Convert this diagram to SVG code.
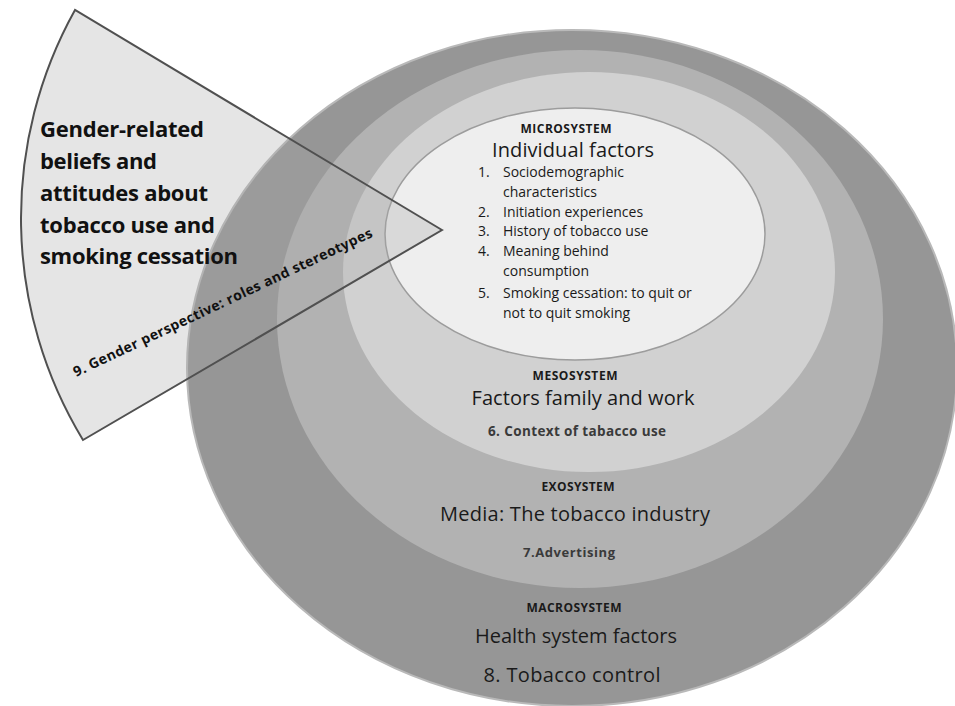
<svg xmlns="http://www.w3.org/2000/svg" width="955" height="706" viewBox="0 0 955 706">
<style>
text{font-family:"Open Sans","Liberation Sans",sans-serif;fill:#1a1a1a}
.sys{font-size:12px;font-weight:700;text-anchor:middle}
.head{font-size:20px;text-anchor:middle}
.sub{font-size:13.5px;font-weight:700;text-anchor:middle;fill:#3a3a3a}
.item{font-size:14px}
.wt{font-size:22px;font-weight:700;fill:#111}
.rot{font-size:14px;font-weight:700;fill:#111}
</style>
<rect width="955" height="706" fill="#ffffff"/>
<g id="macrosystem">
<ellipse cx="572" cy="368" rx="385" ry="338" fill="#969696" stroke="#b9b9b9" stroke-width="2"/>
<text class="sys" x="574" y="612" textLength="95">MACROSYSTEM</text>
<text class="head" x="576" y="643" textLength="202">Health system factors</text>
<text class="head" x="572" y="682" textLength="177">8. Tobacco control</text>
</g>
<g id="exosystem">
<ellipse cx="580" cy="319" rx="303" ry="269" fill="#b2b2b2"/>
<text class="sys" x="578" y="491" textLength="73">EXOSYSTEM</text>
<text class="head" x="575" y="521" textLength="270">Media: The tobacco industry</text>
<text class="sub" x="569" y="557" textLength="92" style="font-size:13px">7.Advertising</text>
</g>
<g id="mesosystem">
<ellipse cx="589" cy="272" rx="246" ry="200" fill="#d1d1d1"/>
<text class="sys" x="575" y="380" textLength="85">MESOSYSTEM</text>
<text class="head" x="583" y="405" textLength="223">Factors family and work</text>
<text class="sub" x="577" y="436" textLength="178">6. Context of tabacco use</text>
</g>
<g id="microsystem">
<ellipse cx="575" cy="234" rx="190" ry="126" fill="#eeeeee" stroke="#9c9c9c" stroke-width="1.5"/>
<text class="sys" x="566" y="133" textLength="91">MICROSYSTEM</text>
<text class="head" x="573" y="157" textLength="162">Individual factors</text>
<text class="item" x="478" y="177">1.</text>
<text class="item" x="503" y="177">Sociodemographic</text>
<text class="item" x="503" y="197">characteristics</text>
<text class="item" x="478" y="217">2.</text>
<text class="item" x="503" y="217">Initiation experiences</text>
<text class="item" x="478" y="236">3.</text>
<text class="item" x="503" y="236">History of tobacco use</text>
<text class="item" x="478" y="256">4.</text>
<text class="item" x="503" y="256">Meaning behind</text>
<text class="item" x="503" y="276">consumption</text>
<text class="item" x="478" y="298">5.</text>
<text class="item" x="503" y="298">Smoking cessation: to quit or</text>
<text class="item" x="503" y="318">not to quit smoking</text>
</g>
<g id="gender-wedge">
<path d="M442,230 L75,10 A428,428 0 0 0 83,440 Z" fill="#a8a8a8" fill-opacity="0.3" stroke="#505050" stroke-width="2" stroke-linejoin="miter"/>
<text class="wt" x="40" y="137" textLength="164">Gender-related</text>
<text class="wt" x="40" y="169" textLength="117">beliefs and</text>
<text class="wt" x="40" y="201" textLength="168">attitudes about</text>
<text class="wt" x="40" y="233" textLength="175">tobacco use and</text>
<text class="wt" x="40" y="264" textLength="198">smoking cessation</text>
<text class="rot" transform="translate(76,377) rotate(-25.3)" x="0" y="0" textLength="329">9. Gender perspective: roles and stereotypes</text>
</g>
<g id="connectors"/>
</svg>
